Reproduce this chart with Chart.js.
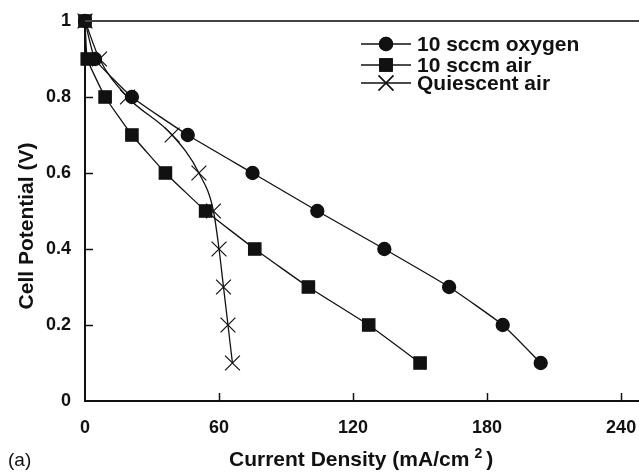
<!DOCTYPE html>
<html>
<head>
<meta charset="utf-8">
<script src="https://cdn.jsdelivr.net/npm/chart.js@4/dist/chart.umd.min.js"></script>
<style>
  body { margin: 0; background: #fff; }
  #wrap { width: 639px; height: 473px; }
</style>
</head>
<body>
<div id="wrap"><canvas id="chart"></canvas></div>
<script>
// cell potential (V) shared by all three curves
var potential = [1, 0.9, 0.8, 0.7, 0.6, 0.5, 0.4, 0.3, 0.2, 0.1]
// current density (mA/cm2)
var oxygenI = [0, 4.5, 21, 46, 75, 104, 134, 163, 187, 204]
var airI = [0, 1, 9, 21, 36, 54, 76, 100, 127, 150]
var quiescentI = [0, 6.5, 19, 39, 51, 57.5, 60, 62, 64, 66]

var labels = ['10 sccm oxygen', '10 sccm air', 'Quiescent air']
var xTicks = [0, 60, 120, 180, 240]
var yTicks = [0, 0.2, 0.4, 0.6, 0.8, 1]

var fontFam = '"Liberation Sans", Arial, Helvetica, sans-serif'
Chart.defaults.font.family = fontFam

function toPoints(xs) {
    return xs.map((x, i) => ({ x: x, y: potential[i] }))
}

// tick marks inside the plot, top line, axis titles, legend
var extras = {
    id: 'extras',
    afterDraw(chart) {
        const ctx = chart.ctx
        const xs = chart.scales.x
        const ys = chart.scales.y
        const area = chart.chartArea

        ctx.save()
        // line at V = 1
        ctx.strokeStyle = '#444'
        ctx.lineWidth = 2
        ctx.beginPath()
        ctx.moveTo(area.left, ys.getPixelForValue(1))
        ctx.lineTo(chart.width, ys.getPixelForValue(1))
        ctx.stroke()

        ctx.strokeStyle = '#111'
        ctx.lineWidth = 1.5
        xTicks.slice(1).forEach(v => {
            const px = Math.round(xs.getPixelForValue(v)) + 0.5
            ctx.beginPath()
            ctx.moveTo(px, area.bottom)
            ctx.lineTo(px, area.bottom - 8)
            ctx.stroke()
        })
        yTicks.slice(1, -1).forEach(v => {
            const py = Math.round(ys.getPixelForValue(v)) + 0.5
            ctx.beginPath()
            ctx.moveTo(area.left, py)
            ctx.lineTo(area.left + 8, py)
            ctx.stroke()
        })

        // axis titles
        ctx.fillStyle = '#111'
        ctx.font = 'bold 21px ' + fontFam
        ctx.textBaseline = 'alphabetic'
        ctx.save()
        ctx.translate(33, 226)
        ctx.rotate(-Math.PI / 2)
        ctx.textAlign = 'center'
        ctx.fillText('Cell Potential (V)', 0, 0)
        ctx.restore()

        ctx.textAlign = 'left'
        var main = 'Current Density (mA/cm'
        var tx = 229
        ctx.fillText(main, tx, 466)
        tx += ctx.measureText(main).width + 5
        ctx.font = 'bold 14px ' + fontFam
        ctx.fillText('2', tx, 458)
        tx += ctx.measureText('2').width + 4
        ctx.font = 'bold 21px ' + fontFam
        ctx.fillText(')', tx, 466)

        ctx.font = '19px ' + fontFam
        ctx.fillText('(a)', 8, 466)

        // legend
        var rows = [44, 65, 83]
        chart.data.datasets.forEach((ds, i) => {
            const y = rows[i]
            ctx.strokeStyle = '#111'
            ctx.lineWidth = 1.3
            ctx.beginPath()
            ctx.moveTo(361, y)
            ctx.lineTo(411, y)
            ctx.stroke()
            Chart.helpers.drawPoint(ctx, {
                pointStyle: ds.pointStyle,
                radius: ds.pointRadius,
                borderWidth: ds.pointBorderWidth || 1
            }, 386, y)
            ctx.fillStyle = '#111'
            ctx.strokeStyle = '#111'
            if (ds.pointStyle != 'crossRot') ctx.fill()
            ctx.stroke()
            ctx.font = 'bold 21px ' + fontFam
            ctx.textBaseline = 'middle'
            ctx.fillText(labels[i], 417, y + 1)
        })
        ctx.restore()
    }
}

var lineStyle = {
    borderColor: '#111',
    backgroundColor: '#111',
    pointBackgroundColor: '#111',
    pointBorderColor: '#111',
    borderWidth: 1.3,
    clip: false
}

var config = {
    type: 'line',
    data: {
        datasets: [
            Object.assign({
                label: labels[0],
                data: toPoints(oxygenI),
                pointStyle: 'circle',
                pointRadius: 6.5,
                tension: 0.15,
                order: 2
            }, lineStyle),
            Object.assign({
                label: labels[1],
                data: toPoints(airI),
                pointStyle: 'rect',
                pointRadius: 8.7,
                tension: 0.1,
                order: 1
            }, lineStyle),
            Object.assign({
                label: labels[2],
                data: toPoints(quiescentI),
                pointStyle: 'crossRot',
                pointRadius: 10.5,
                pointBorderWidth: 1.2,
                cubicInterpolationMode: 'monotone',
                order: 3
            }, lineStyle)
        ]
    },
    options: {
        responsive: true,
        maintainAspectRatio: false,
        animation: false,
        layout: { autoPadding: false, padding: { top: 21, right: 0, left: 0, bottom: 0 } },
        plugins: {
            legend: { display: false },
            tooltip: { enabled: false }
        },
        scales: {
            x: {
                type: 'linear',
                min: 0,
                max: 248,
                afterFit: s => { s.height = 72; s.paddingLeft = 0; s.paddingRight = 0 },
                afterBuildTicks: s => { s.ticks = xTicks.map(v => ({ value: v })) },
                grid: { display: false, drawTicks: true, tickLength: 16 },
                border: { display: true, color: '#111', width: 2 },
                ticks: {
                    padding: 0,
                    color: '#111',
                    font: { size: 18, weight: 'bold' }
                }
            },
            y: {
                type: 'linear',
                min: 0,
                max: 1,
                afterFit: s => { s.width = 85; s.paddingTop = 0; s.paddingBottom = 0 },
                afterBuildTicks: s => { s.ticks = yTicks.map(v => ({ value: v })) },
                grid: { display: false, drawTicks: false },
                border: { display: true, color: '#111', width: 2 },
                ticks: {
                    padding: 14,
                    color: '#111',
                    font: { size: 18, weight: 'bold' },
                    callback: v => String(v)
                }
            }
        }
    },
    plugins: [extras]
}

var chartvar = new Chart(document.getElementById('chart'), config)
</script>
</body>
</html>
